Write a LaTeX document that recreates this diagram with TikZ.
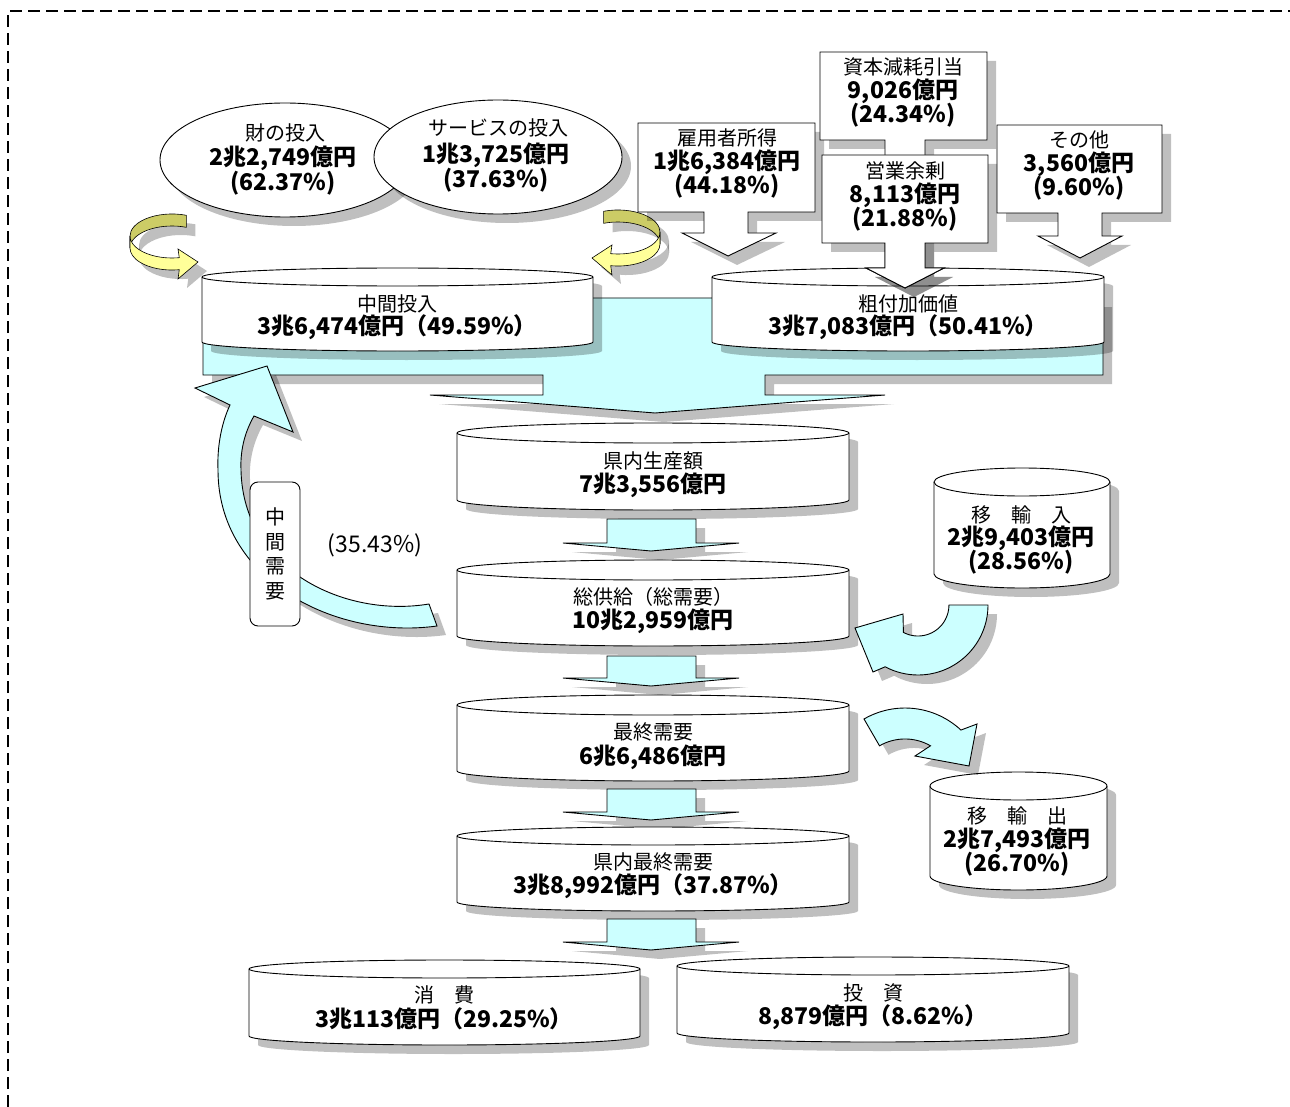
\documentclass[tikz,border=0pt]{standalone}
\usepackage{fontspec}
\newfontfamily\jp{Noto Sans CJK JP}
\usetikzlibrary{shadows}
\definecolor{cyanc}{HTML}{CCFFFF}
\definecolor{yelc}{HTML}{FFFF99}
\definecolor{olivec}{HTML}{CCCC66}
% cylinder: x1, x2, top-centre y, bottom-centre y, ry
\newcommand\mycyl[5]{%
  \path[box] (#1,#3) -- (#1,#4) arc[start angle=180,end angle=0,x radius={(#2-#1)/2},y radius=#5]
    -- (#2,#3) arc[start angle=0,end angle=-180,x radius={(#2-#1)/2},y radius=#5] -- cycle;
  \draw (#1,#3) arc[start angle=180,end angle=0,x radius={(#2-#1)/2},y radius=#5];
}
% small down arrow: stem top, head y, tip y
\newcommand\sarrow[3]{%
  \path[cy] (607,#1) -- (696,#1) -- (696,#2) -- (739,#2) -- (651,#3) -- (563,#2) -- (607,#2) -- cycle;
}
\begin{document}
\begin{tikzpicture}[x=1pt,y=-1pt,line width=0.9pt,
  shd/.style={drop shadow={shadow xshift=9pt,shadow yshift=-9pt,fill=black,opacity=0.25}},
  box/.style={draw=black,fill=white,shd},
  cy/.style={draw=black,fill=cyanc,shd},
  lab/.style={inner sep=0pt,font=\jp\fontsize{20}{20}\selectfont},
  num/.style={inner sep=0pt,font=\jp\bfseries\fontsize{23}{23}\selectfont},
  yband/.style={draw=black,line width=0.6pt,shd}]
\useasboundingbox (0,0) rectangle (1290,1107);

% frame
\draw[line width=1.5pt,dash pattern=on 12pt off 6pt] (8,1107) -- (8,11) -- (1290,11);

% big cyan arrow
\path[cy] (203,298) -- (1103,298) -- (1103,375) -- (765,375) -- (765,395) -- (885,395)
  -- (655,413) -- (430,395) -- (543,395) -- (543,375) -- (203,375) -- cycle;

% top cylinders
\mycyl{202}{593}{277}{342}{9}
\mycyl{712}{1104}{277}{342}{9}
\node[lab] (chukanlab) at (397,304) {中間投入};
\node[num] (chukannum) at (397,327) {3兆6,474億円（49.59\%）};
\node[lab] (sofukalab) at (908,304) {粗付加価値};
\node[num] (sofukanum) at (908,327) {3兆7,083億円（50.41\%）};

% ellipses
\path[box] (285,160) ellipse[x radius=125,y radius=57];
\path[box] (498,157) ellipse[x radius=124,y radius=57];
\node[lab] (zaia) at (285,133) {財の投入};
\node[num] (zaib) at (283,158) {2兆2,749億円};
\node[num] (zaic) at (283,183) {(62.37\%)};
\node[lab] (sva) at (498,128) {サービスの投入};
\node[num] (svb) at (496,155) {1兆3,725億円};
\node[num] (svc) at (496,180) {(37.63\%)};

% yellow arrows (left)
\path[yband,fill=olivec] (186.4,215.3) arc[start angle=290,end angle=180,x radius=42,y radius=22]
  -- (130,248) arc[start angle=180,end angle=290,x radius=42,y radius=22] -- cycle;
\path[yband,fill=yelc] (130,236) arc[start angle=180,end angle=80,x radius=42,y radius=22]
  -- (178,249) -- (198,262) -- (178,279) -- (179.3,269.7)
  arc[start angle=80,end angle=180,x radius=42,y radius=22] -- cycle;
% yellow arrows (right)
\path[yband,fill=olivec] (603.6,211.3) arc[start angle=250,end angle=360,x radius=42,y radius=22]
  -- (660,244) arc[start angle=0,end angle=-110,x radius=42,y radius=22] -- cycle;
\path[yband,fill=yelc] (660,232) arc[start angle=0,end angle=100,x radius=42,y radius=22]
  -- (612,245) -- (592,258) -- (612,275) -- (610.7,265.7)
  arc[start angle=100,end angle=0,x radius=42,y radius=22] -- cycle;

% callouts
\path[box] (638,123) -- (815,123) -- (815,212) -- (748,212) -- (748,233) -- (776,233) -- (728,256)
  -- (682,233) -- (704,233) -- (704,212) -- (638,212) -- cycle;
\path[box] (997,125) -- (1162,125) -- (1162,213) -- (1102,213) -- (1102,236) -- (1122,236) -- (1080,258)
  -- (1038,236) -- (1058,236) -- (1058,213) -- (997,213) -- cycle;
\path[box] (820,52) -- (987,52) -- (987,140) -- (925,140) -- (925,268) -- (944,268) -- (905,288)
  -- (866,268) -- (885,268) -- (885,140) -- (820,140) -- cycle;
\path[box] (822,155) -- (988,155) -- (988,243) -- (925,243) -- (925,268) -- (944,268) -- (905,288)
  -- (866,268) -- (885,268) -- (885,243) -- (822,243) -- cycle;
\node[lab] (koyoa) at (727,138) {雇用者所得};
\node[num] (koyob) at (727,162) {1兆6,384億円};
\node[num] (koyoc) at (727,186) {(44.18\%)};
\node[lab] (shihona) at (903,67) {資本減耗引当};
\node[num] (shihonb) at (903,91) {9,026億円};
\node[num] (shihonc) at (903,115) {(24.34\%)};
\node[lab] (eigyoa) at (905,171) {営業余剰};
\node[num] (eigyob) at (905,195) {8,113億円};
\node[num] (eigyoc) at (905,219) {(21.88\%)};
\node[lab] (sonota) at (1079,140) {その他};
\node[num] (sonotb) at (1079,164) {3,560億円};
\node[num] (sonotc) at (1079,188) {(9.60\%)};

% middle column
\mycyl{457}{849}{433}{500}{10}
\sarrow{519}{543}{551}
\mycyl{457}{849}{570}{636}{10}
\sarrow{656}{678}{686}
\mycyl{457}{849}{705}{771}{10}
\sarrow{789}{812}{820}
\mycyl{457}{849}{836}{902}{9}
\sarrow{919}{942}{950}
\node[lab] (kenseia) at (653,461) {県内生産額};
\node[num] (kenseib) at (653,485) {7兆3,556億円};
\node[lab] (sokyoa) at (653,597) {総供給（総需要）};
\node[num] (sokyob) at (653,621) {10兆2,959億円};
\node[lab] (saisha) at (653,732) {最終需要};
\node[num] (saishb) at (653,757) {6兆6,486億円};
\node[lab] (kensaia) at (653,862) {県内最終需要};
\node[num] (kensaib) at (653,886) {3兆8,992億円（37.87\%）};

% bottom cylinders
\mycyl{249}{640}{969}{1036}{9}
\mycyl{677}{1069}{966}{1033}{9}
\node[lab] (shohia) at (444,995) {消　費};
\node[num] (shohib) at (444,1019) {3兆113億円（29.25\%）};
\node[lab] (toshia) at (873,993) {投　資};
\node[num] (toshib) at (873,1017) {8,879億円（8.62\%）};

% left curved arrow (intermediate demand)
\path[cy] (437,626) .. controls (335,640) and (218,580) .. (218,470)
  .. controls (217,445) and (222,422) .. (230,405) -- (195,388) -- (267,366) -- (293,432)
  -- (254,416) .. controls (246,430) and (240,448) .. (241,470)
  .. controls (243,570) and (345,618) .. (429,604) -- cycle;
\node[draw=black,fill=white,rounded corners=8pt,minimum width=50pt,minimum height=144pt,
  inner sep=0pt,align=center,font=\jp\fontsize{20}{24.6}\selectfont] (chukanjuyo) at (275,554) {中\\間\\需\\要};
\node[inner sep=0pt,font=\jp\fontsize{23}{23}\selectfont] (pct3543) at (375,545) {(35.43\%)};

% right cylinders
\mycyl{934}{1110}{482}{574}{14}
\node[lab] (inyua) at (1021,515) {移　輸　入};
\node[num] (inyub) at (1021,538) {2兆9,403億円};
\node[num] (inyuc) at (1021,562) {(28.56\%)};
\mycyl{930}{1107}{786}{876}{14}
\node[lab] (ishutsua) at (1017,816) {移　輸　出};
\node[num] (ishutsub) at (1017,840) {2兆7,493億円};
\node[num] (ishutsuc) at (1017,864) {(26.70\%)};

% import arrow
\path[cy] (988,605) arc[start angle=0,end angle=118,radius=70] -- (873,672) -- (855,628) -- (903,614)
  -- (903.4,632.4) arc[start angle=118,end angle=0,radius=31] -- cycle;
% export arrow
\path[cy] (864,719) arc[start angle=240,end angle=313,radius=82] -- (977,724) -- (969,766) -- (915,756)
  -- (930.5,745.8) arc[start angle=300,end angle=240,radius=51] -- cycle;
\end{tikzpicture}
\end{document}
